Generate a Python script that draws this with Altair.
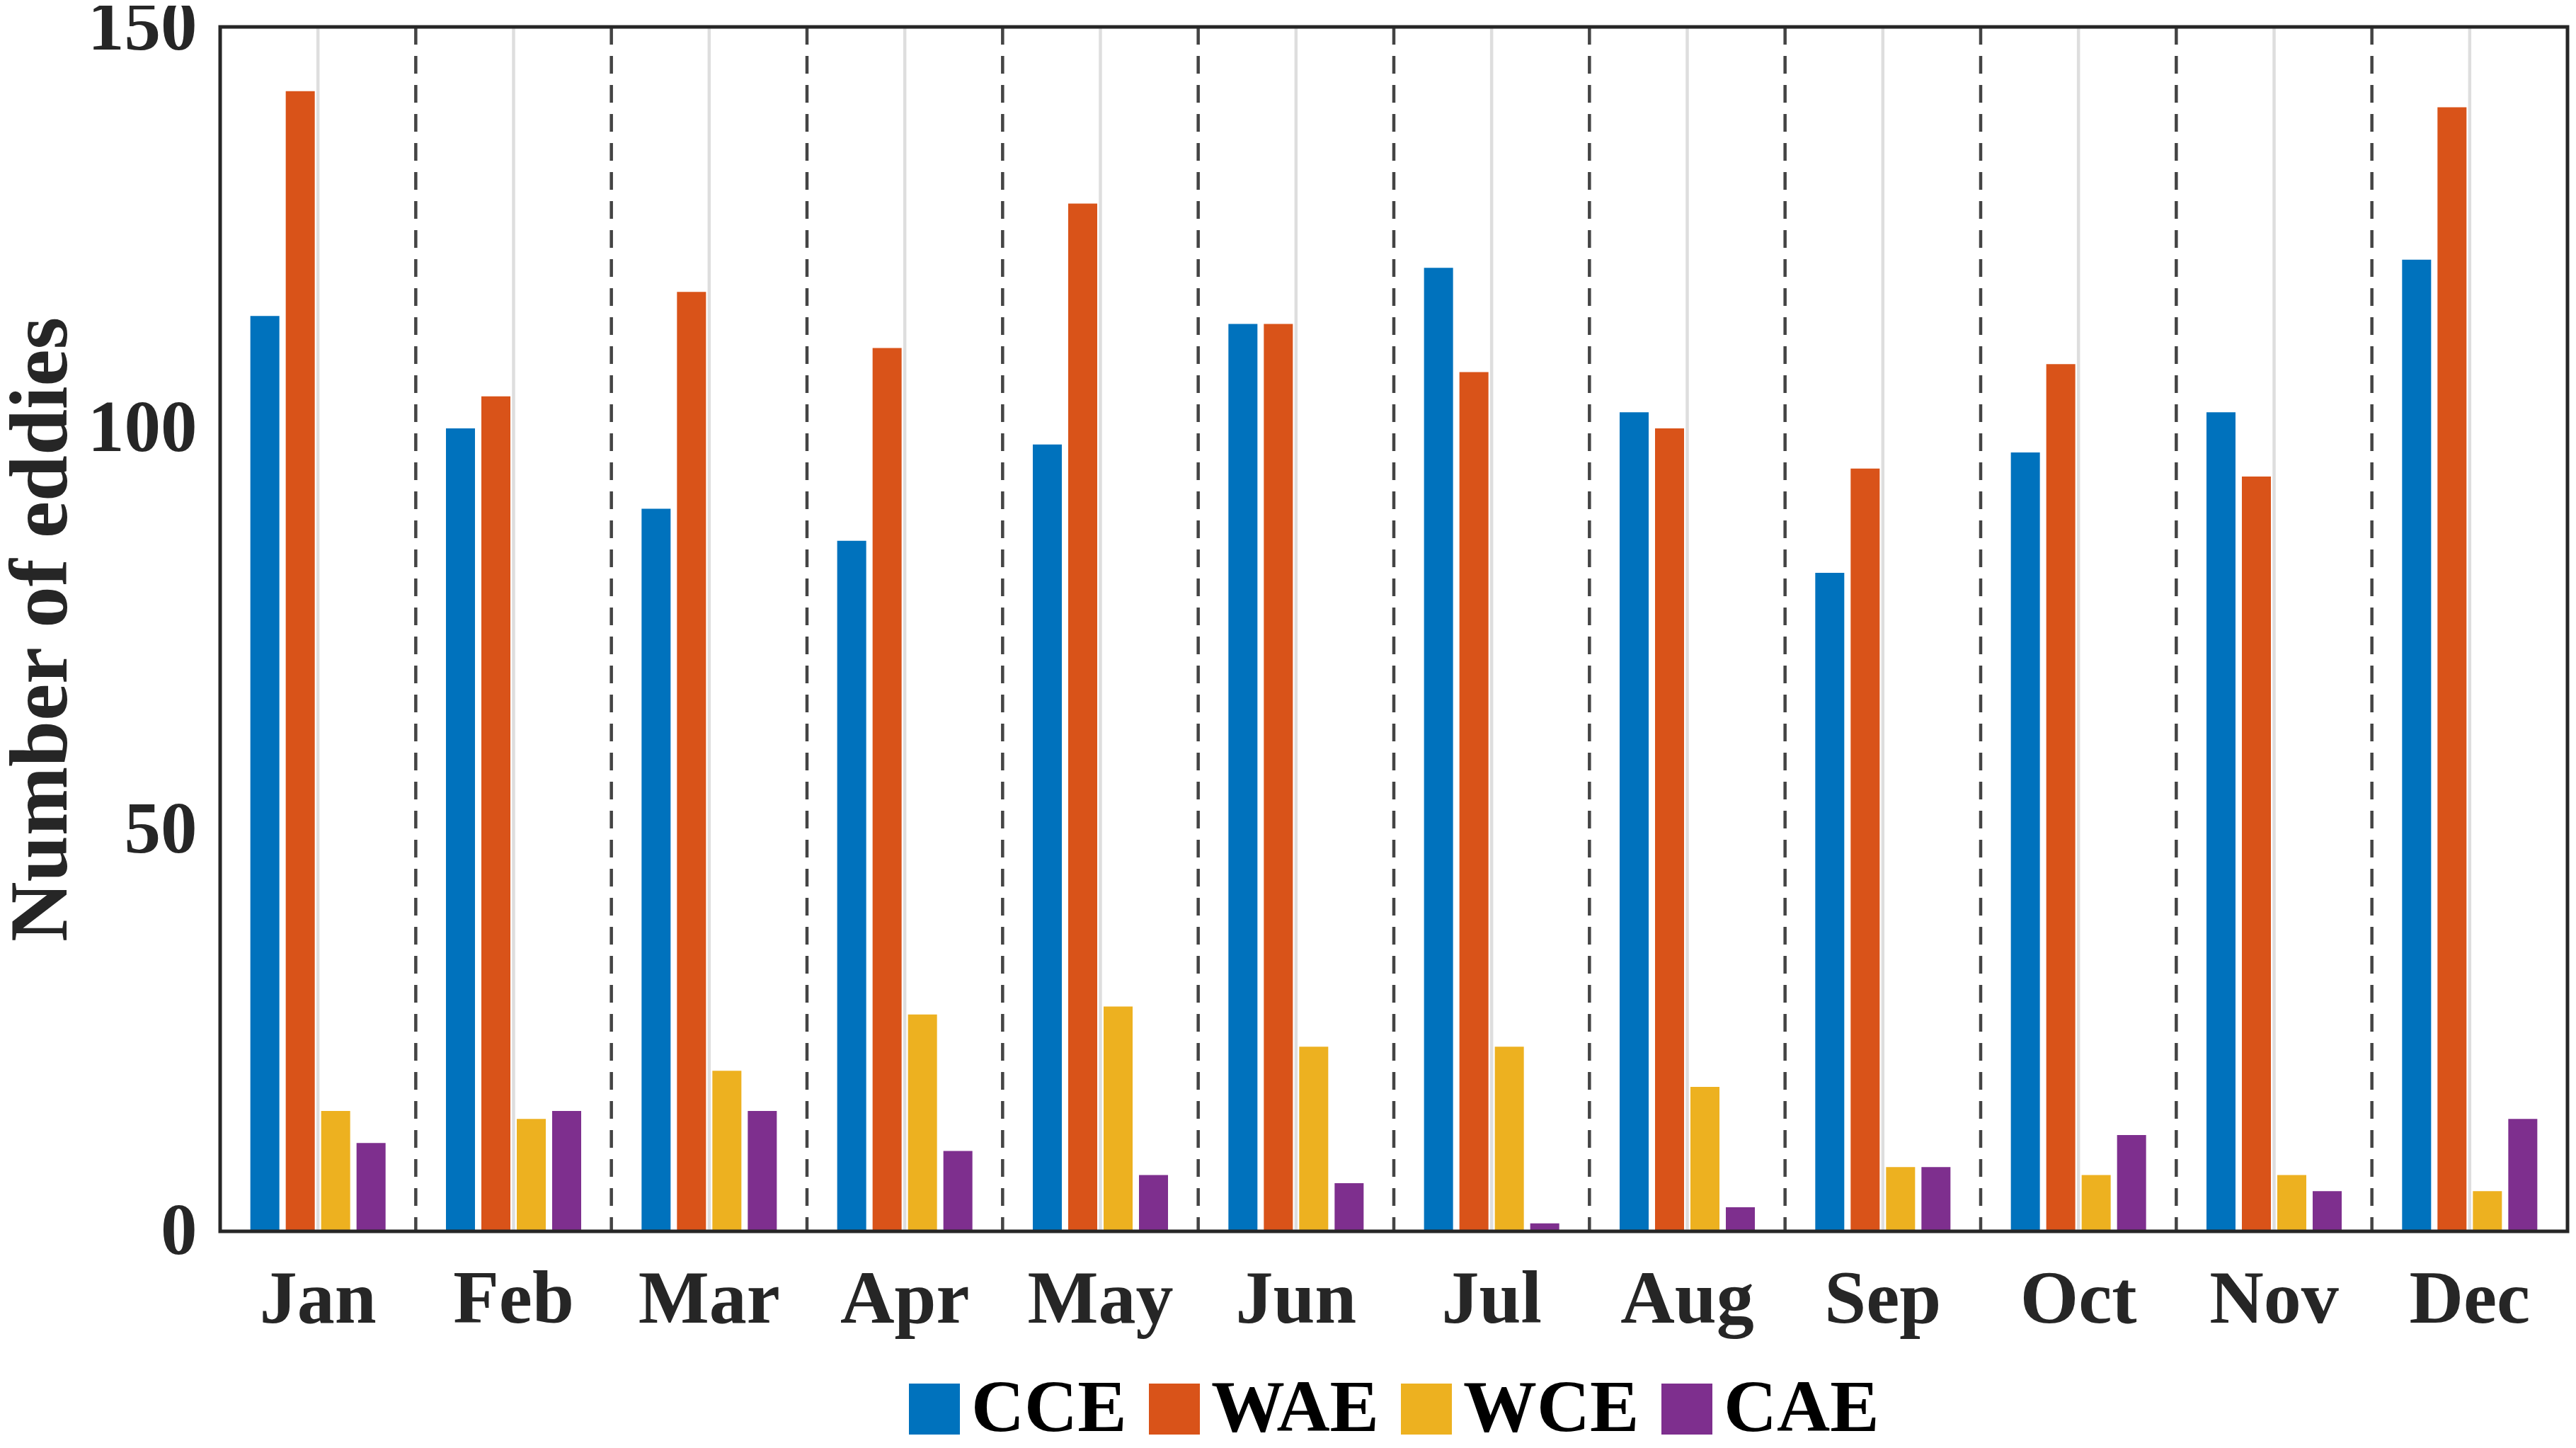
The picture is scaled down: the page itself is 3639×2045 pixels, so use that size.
import altair as alt
import pandas as pd

months = ["Jan", "Feb", "Mar", "Apr", "May", "Jun", "Jul", "Aug", "Sep", "Oct", "Nov", "Dec"]
types = ["CCE", "WAE", "WCE", "CAE"]
cce = [114, 100, 90, 86, 98, 113, 120, 102, 82, 97, 102, 121]
wae = [142, 104, 117, 110, 128, 113, 107, 100, 95, 108, 94, 140]
wce = [15, 14, 20, 27, 28, 23, 23, 18, 8, 7, 7, 5]
cae = [11, 15, 15, 10, 7, 6, 1, 3, 8, 12, 5, 14]
colors = ["#0072BD", "#D95319", "#EDB120", "#7E2F8E"]
y_ticks = [0, 50, 100, 150]

series = {"CCE": cce, "WAE": wae, "WCE": wce, "CAE": cae}
rows = []
for t in types:
    for m, v in zip(months, series[t]):
        rows.append({"month": m, "type": t, "count": v})
df = pd.DataFrame(rows)
mdf = pd.DataFrame({"month": months})

W, H = 3316, 1701
FONT = "Liberation Serif"

xscale = alt.Scale(domain=months, paddingInner=0, paddingOuter=0)

xaxis = alt.Axis(
    title=None, labelAngle=0, labelFont=FONT, labelFontSize=106, labelFontWeight="bold",
    labelColor="#262626", labelPadding=44, labelLimit=1000, tickSize=0, domain=False,
    grid=False,
)

grid = alt.Chart(mdf).mark_rule(color="#dedede", strokeWidth=4.5).encode(
    x=alt.X("month:N", scale=xscale, bandPosition=0.5, axis=xaxis, sort=months)
)

dashed = alt.Chart(mdf).transform_filter(
    alt.datum.month != "Jan"
).mark_rule(color="#444444", strokeWidth=4.5, strokeDash=[25, 16]).encode(
    x=alt.X("month:N", scale=xscale, bandPosition=0, sort=months)
)

bars = alt.Chart(df).mark_bar(size=41).encode(
    x=alt.X("month:N", scale=xscale, sort=months),
    xOffset=alt.XOffset("type:N", sort=types,
                        scale=alt.Scale(domain=types, paddingInner=0.18, paddingOuter=0.853)),
    y=alt.Y("count:Q", scale=alt.Scale(domain=[0, 150], nice=False),
            axis=alt.Axis(values=y_ticks, title="Number of eddies", titleFont=FONT,
                          titleFontSize=117, titleFontWeight="bold", titleColor="#262626",
                          titlePadding=5, labelFont=FONT, labelFontSize=103,
                          labelFontWeight="bold", labelColor="#262626", labelPadding=33,
                          tickSize=0, domain=False, grid=False)),
    color=alt.Color("type:N", sort=types, scale=alt.Scale(domain=types, range=colors),
                    legend=alt.Legend(orient="none", legendX=957, legendY=1900,
                                      direction="horizontal", columns=4, title=None,
                                      symbolType="square", symbolSize=5184,
                                      symbolStrokeWidth=0, symbolOpacity=1,
                                      labelFont=FONT, labelFontSize=104,
                                      labelFontWeight="bold", labelColor="black",
                                      labelLimit=1000, columnPadding=15, labelOffset=0,
                                      padding=0)),
)

frame = alt.Chart(mdf).mark_rect(fill=None, stroke="#262626", strokeWidth=5).encode(
    x=alt.value(0), x2=alt.value(W), y=alt.value(0), y2=alt.value(H)
).transform_filter(alt.datum.month == "Jan")

chart = alt.layer(grid, dashed, bars, frame).properties(
    width=W, height=H,
    autosize=alt.AutoSizeParams(type="none"),
    padding={"left": 303, "top": 30, "right": 4, "bottom": 306},
    background="white",
).configure_view(stroke=None)

chart.save("out.html", embed_options={"renderer": "svg", "actions": False})
